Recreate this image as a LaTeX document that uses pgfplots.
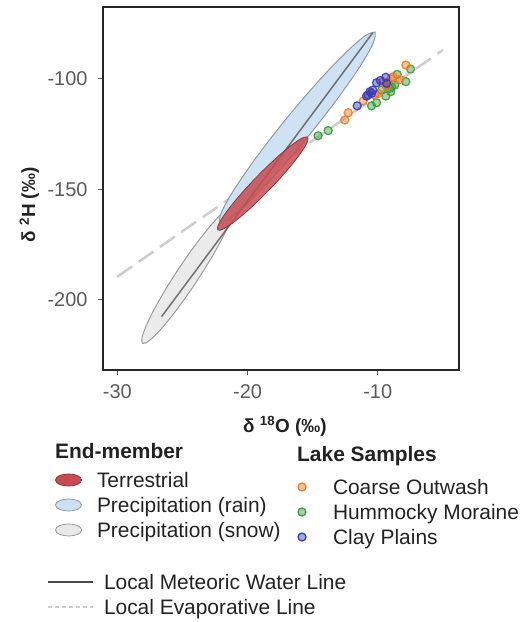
\documentclass[border=0pt]{standalone}
\usepackage{fontspec}
\setmainfont{Liberation Sans}
\usepackage{pgfplots}
\pgfplotsset{compat=1.18}
\definecolor{terrfill}{HTML}{C84C50}
\definecolor{terredge}{HTML}{8E3436}
\definecolor{rainfill}{HTML}{CCE0F2}
\definecolor{rainedge}{HTML}{8C9BA8}
\definecolor{snowfill}{HTML}{E9E9E9}
\definecolor{snowedge}{HTML}{9C9C9C}
\definecolor{cOrange}{HTML}{F57C22}
\definecolor{cGreen}{HTML}{3C9E3C}
\definecolor{cBlue}{HTML}{3B3BB8}
\definecolor{lmwl}{HTML}{4A4A4A}
\definecolor{lel}{HTML}{CDCDCD}
\definecolor{tickgray}{HTML}{5A5A5A}
\definecolor{txt}{HTML}{222222}
\pgfplotsset{
  mylegend/.style={
    hide axis, width=1bp, height=1bp, scale only axis,
    xmin=0, xmax=1, ymin=0, ymax=1, anchor=south west,
    legend cell align=left,
    legend style={at={(0,0)}, anchor=north west, draw=none, fill=none,
      inner sep=0pt, outer sep=0pt, column sep=0pt, row sep=10bp,
      font=\fontsize{21}{25}\selectfont, text=txt,
      nodes={inner sep=0pt, outer sep=0pt, text height=15bp, text depth=0pt}},
  },
}
\begin{document}
\begin{tikzpicture}
\useasboundingbox (0bp,0bp) rectangle (527bp,622bp);
\begin{axis}[at={(103bp,252bp)}, anchor=south west, width=356bp, height=363bp, scale only axis,
  xmin=-31.1, xmax=-3.76, ymin=-231.6, ymax=-67.8,
  xtick={-30,-20,-10}, xticklabels={-30,-20,-10},
  ytick={-200,-150,-100}, yticklabels={-200,-150,-100},
  tick align=outside, xtick pos=bottom, ytick pos=left,
  major tick length=5bp,
  every tick/.style={tickgray, line width=1bp},
  tick label style={font=\fontsize{20}{24}\selectfont, text=tickgray},
  xticklabel style={yshift=-6bp},
  yticklabel style={xshift=-7bp},
  axis line style={line width=1.2bp, black!85},
  xlabel={δ \textsuperscript{18}O (‰)}, ylabel={δ \textsuperscript{2}H (‰)},
  label style={font=\bfseries\fontsize{19}{23}\selectfont, text=txt},
  xlabel style={at={(axis description cs:0.511,-0.171)}, anchor=base},
  ylabel style={at={(axis description cs:-0.191,0.4545)}, anchor=base},
]
% Local Evaporative Line
\addplot[lel, line width=2.5bp, dash pattern=on 18bp off 8bp] coordinates {(-30,-189.5) (-5,-87.2)};
% Precipitation (snow)
\addplot[smooth, tension=0.6, fill=snowfill, draw=snowedge, line width=1bp, fill opacity=0.9] coordinates {
(-21.20,-158.53) (-21.191,-161.897) (-21.707,-169.396) (-22.666,-179.886) (-23.925,-191.77)
(-25.292,-203.238) (-26.557,-212.544) (-27.529,-218.273) (-28.06,-219.55) (-28.069,-216.183)
(-27.554,-208.684) (-26.594,-198.194) (-25.335,-186.31) (-23.968,-174.842) (-22.704,-165.536)
(-21.731,-159.807) (-21.20,-158.53)} -- cycle;
% Precipitation (rain)
\addplot[smooth, tension=0.6, fill=rainfill, draw=rainedge, line width=1bp, fill opacity=0.95] coordinates {
(-10.20,-79.10) (-10.333,-83.896) (-11.353,-94.486) (-13.102,-109.256) (-15.315,-125.96)
(-17.656,-142.054) (-19.767,-155.084) (-21.327,-163.074) (-22.10,-164.80) (-21.967,-160.004)
(-20.947,-149.414) (-19.198,-134.644) (-16.985,-117.94) (-14.644,-101.846) (-12.533,-88.816)
(-10.973,-80.826) (-10.20,-79.10)} -- cycle;
% Local Meteoric Water Line
\addplot[lmwl, line width=1.5bp, opacity=0.75] coordinates {(-26.6,-207.5) (-10.38,-79.4)};
% Terrestrial
\addplot[smooth, tension=0.6, fill=terrfill, draw=terredge, line width=0.8bp, fill opacity=0.85] coordinates {
(-15.37,-126.50) (-15.443,-129.173) (-16.031,-134.63) (-17.044,-142.037) (-18.328,-150.27)
(-19.688,-158.073) (-20.917,-164.258) (-21.827,-167.885) (-22.28,-168.40) (-22.207,-165.727)
(-21.619,-160.27) (-20.606,-152.863) (-19.322,-144.63) (-17.962,-136.827) (-16.733,-130.642)
(-15.823,-127.015) (-15.37,-126.50)} -- cycle;
% Lake samples
\addplot[only marks, mark=*, mark size=4bp, mark options={draw=cGreen, fill=cGreen, fill opacity=0.45, draw opacity=0.9, line width=1.3bp}] coordinates {
(-7.48,-95.8) (-7.84,-101.5) (-8.51,-98.2) (-8.69,-103.0) (-9.07,-104.5) (-9.20,-102.3)
(-8.94,-103.8) (-9.38,-108.0) (-9.71,-105.3) (-10.09,-111.0) (-10.48,-112.4) (-13.81,-123.6)
(-14.58,-125.9) (-9.0,-106.0)};
\addplot[only marks, mark=*, mark size=4bp, mark options={draw=cOrange, fill=cOrange, fill opacity=0.45, draw opacity=0.9, line width=1.3bp}] coordinates {
(-7.84,-94.0) (-8.82,-99.3) (-9.59,-101.5) (-9.32,-103.8) (-9.97,-106.8) (-10.22,-107.5)
(-11.12,-110.2) (-12.27,-115.5) (-12.53,-118.8) (-8.3,-100.5) (-9.0,-100.2)};
\addplot[only marks, mark=*, mark size=4bp, mark options={draw=cBlue, fill=cBlue, fill opacity=0.45, draw opacity=0.9, line width=1.3bp}] coordinates {
(-9.38,-99.5) (-10.09,-102.0) (-9.32,-102.3) (-9.8,-101.0) (-10.38,-105.3) (-10.48,-106.8)
(-10.6,-106.0) (-10.74,-107.5) (-10.86,-108.0) (-11.58,-112.4)};
\end{axis}
% Legend: End-member
\node[anchor=base west, inner sep=0pt, text=txt, font=\bfseries\fontsize{21}{25}\selectfont] at (55bp,163bp) {End-member};
\begin{axis}[mylegend, at={(55bp,149.5bp)}]
\addlegendimage{legend image code/.code={\path[draw=none, fill=none] (0,-7.5bp) rectangle (42bp,7.5bp);
  \draw[draw=terredge, fill=terrfill, line width=0.8bp] (13.5bp,0) ellipse (13bp and 6bp);}}
\addlegendentry{Terrestrial}
\addlegendimage{legend image code/.code={\path[draw=none, fill=none] (0,-7.5bp) rectangle (42bp,7.5bp);
  \draw[draw=rainedge, fill=rainfill, line width=0.8bp] (13.5bp,0) ellipse (13bp and 6bp);}}
\addlegendentry{Precipitation (rain)}
\addlegendimage{legend image code/.code={\path[draw=none, fill=none] (0,-7.5bp) rectangle (42bp,7.5bp);
  \draw[draw=snowedge, fill=snowfill, line width=0.8bp] (13.5bp,0) ellipse (13bp and 6bp);}}
\addlegendentry{Precipitation (snow)}
\end{axis}
% Legend: Lake Samples
\node[anchor=base west, inner sep=0pt, text=txt, font=\bfseries\fontsize{21}{25}\selectfont] at (297bp,160bp) {Lake Samples};
\begin{axis}[mylegend, at={(295bp,142.5bp)}]
\addlegendimage{legend image code/.code={\path[draw=none, fill=none] (0,-7.5bp) rectangle (38bp,7.5bp);
  \draw[draw=cOrange, fill=cOrange!45, line width=1.3bp] (7bp,0) circle (4bp);}}
\addlegendentry{Coarse Outwash}
\addlegendimage{legend image code/.code={\path[draw=none, fill=none] (0,-7.5bp) rectangle (38bp,7.5bp);
  \draw[draw=cGreen, fill=cGreen!45, line width=1.3bp] (7bp,0) circle (4bp);}}
\addlegendentry{Hummocky Moraine}
\addlegendimage{legend image code/.code={\path[draw=none, fill=none] (0,-7.5bp) rectangle (38bp,7.5bp);
  \draw[draw=cBlue, fill=cBlue!45, line width=1.3bp] (7bp,0) circle (4bp);}}
\addlegendentry{Clay Plains}
\end{axis}
% Legend: lines
\begin{axis}[mylegend, at={(47bp,47.5bp)}]
\addlegendimage{legend image code/.code={\path[draw=none, fill=none] (0,-7.5bp) rectangle (56bp,7.5bp);
  \draw[lmwl, line width=2bp] (0,0) -- (45bp,0);}}
\addlegendentry{Local Meteoric Water Line}
\addlegendimage{legend image code/.code={\path[draw=none, fill=none] (0,-7.5bp) rectangle (56bp,7.5bp);
  \draw[lel, line width=2bp, dash pattern=on 4bp off 3bp] (0,0) -- (45bp,0);}}
\addlegendentry{Local Evaporative Line}
\end{axis}
\end{tikzpicture}
\end{document}
